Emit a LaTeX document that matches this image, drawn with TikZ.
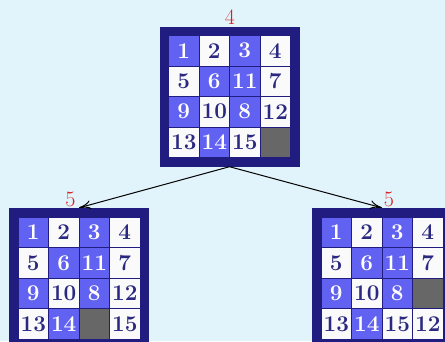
\documentclass[tikz,border=0pt]{standalone}
\usepackage{fontspec}
\usetikzlibrary{arrows.meta,calc}
\definecolor{bg}{HTML}{E1F4FB}
\definecolor{navy}{HTML}{211C80}
\definecolor{tileblue}{HTML}{6161F2}
\definecolor{tilewhite}{HTML}{FAFAFA}
\definecolor{tilegray}{HTML}{676767}
\definecolor{txtnavy}{HTML}{2A2880}
\definecolor{labred}{HTML}{DD1C1C}
\tikzset{
  board/.style={fill=navy, draw=none, minimum size=140pt, inner sep=0pt},
  cellbase/.style={draw=navy, line width=0.7pt, minimum size=30.5pt, inner sep=0pt,
    font=\fontsize{22.5}{26}\selectfont\bfseries},
  w/.style={cellbase, fill=tilewhite, text=txtnavy},
  b/.style={cellbase, fill=tileblue, text=white},
  g/.style={cellbase, fill=tilegray},
  costlab/.style={text=labred, inner sep=0pt, font=\fontsize{22}{26}\selectfont},
  arr/.style={-{To[length=12pt,width=9pt]}, line width=1pt, black}
}
\newcommand{\drawboard}[4]{%
  \node[board] (#1) at (#2,#3) {};
  \foreach \v/\t [count=\i from 0] in {#4} {
    \pgfmathtruncatemacro{\col}{mod(\i,4)}
    \pgfmathtruncatemacro{\row}{int(\i/4)}
    \node[\t] (#1-\i) at ($(#1.center)+(\col*30.5-45.75, \row*30.5-45.75)$) {\v};
  }
}
\begin{document}
\begin{tikzpicture}[x=1pt,y=-1pt]
\useasboundingbox (0,0) rectangle (445,341);
\fill[bg] (0,0) rectangle (445,341);
\clip (0,0) rectangle (445,341);
\drawboard{top}{229.5}{96.5}{1/b,2/w,3/b,4/w,5/w,6/b,11/b,7/w,9/b,10/w,8/b,12/w,13/w,14/b,15/w,/g}
\drawboard{left}{79}{278}{1/b,2/w,3/b,4/w,5/w,6/b,11/b,7/w,9/b,10/w,8/b,12/w,13/w,14/b,/g,15/w}
\drawboard{right}{382}{278}{1/b,2/w,3/b,4/w,5/w,6/b,11/b,7/w,9/b,10/w,8/b,/g,13/w,14/b,15/w,12/w}
\node[costlab] (ltop) at (230,17) {4};
\node[costlab] (lleft) at (70.5,199) {5};
\node[costlab] (lright) at (389,199) {5};
\draw[arr] (top.south) -- (left.north);
\draw[arr] (top.south) -- (right.north);
\end{tikzpicture}
\end{document}
